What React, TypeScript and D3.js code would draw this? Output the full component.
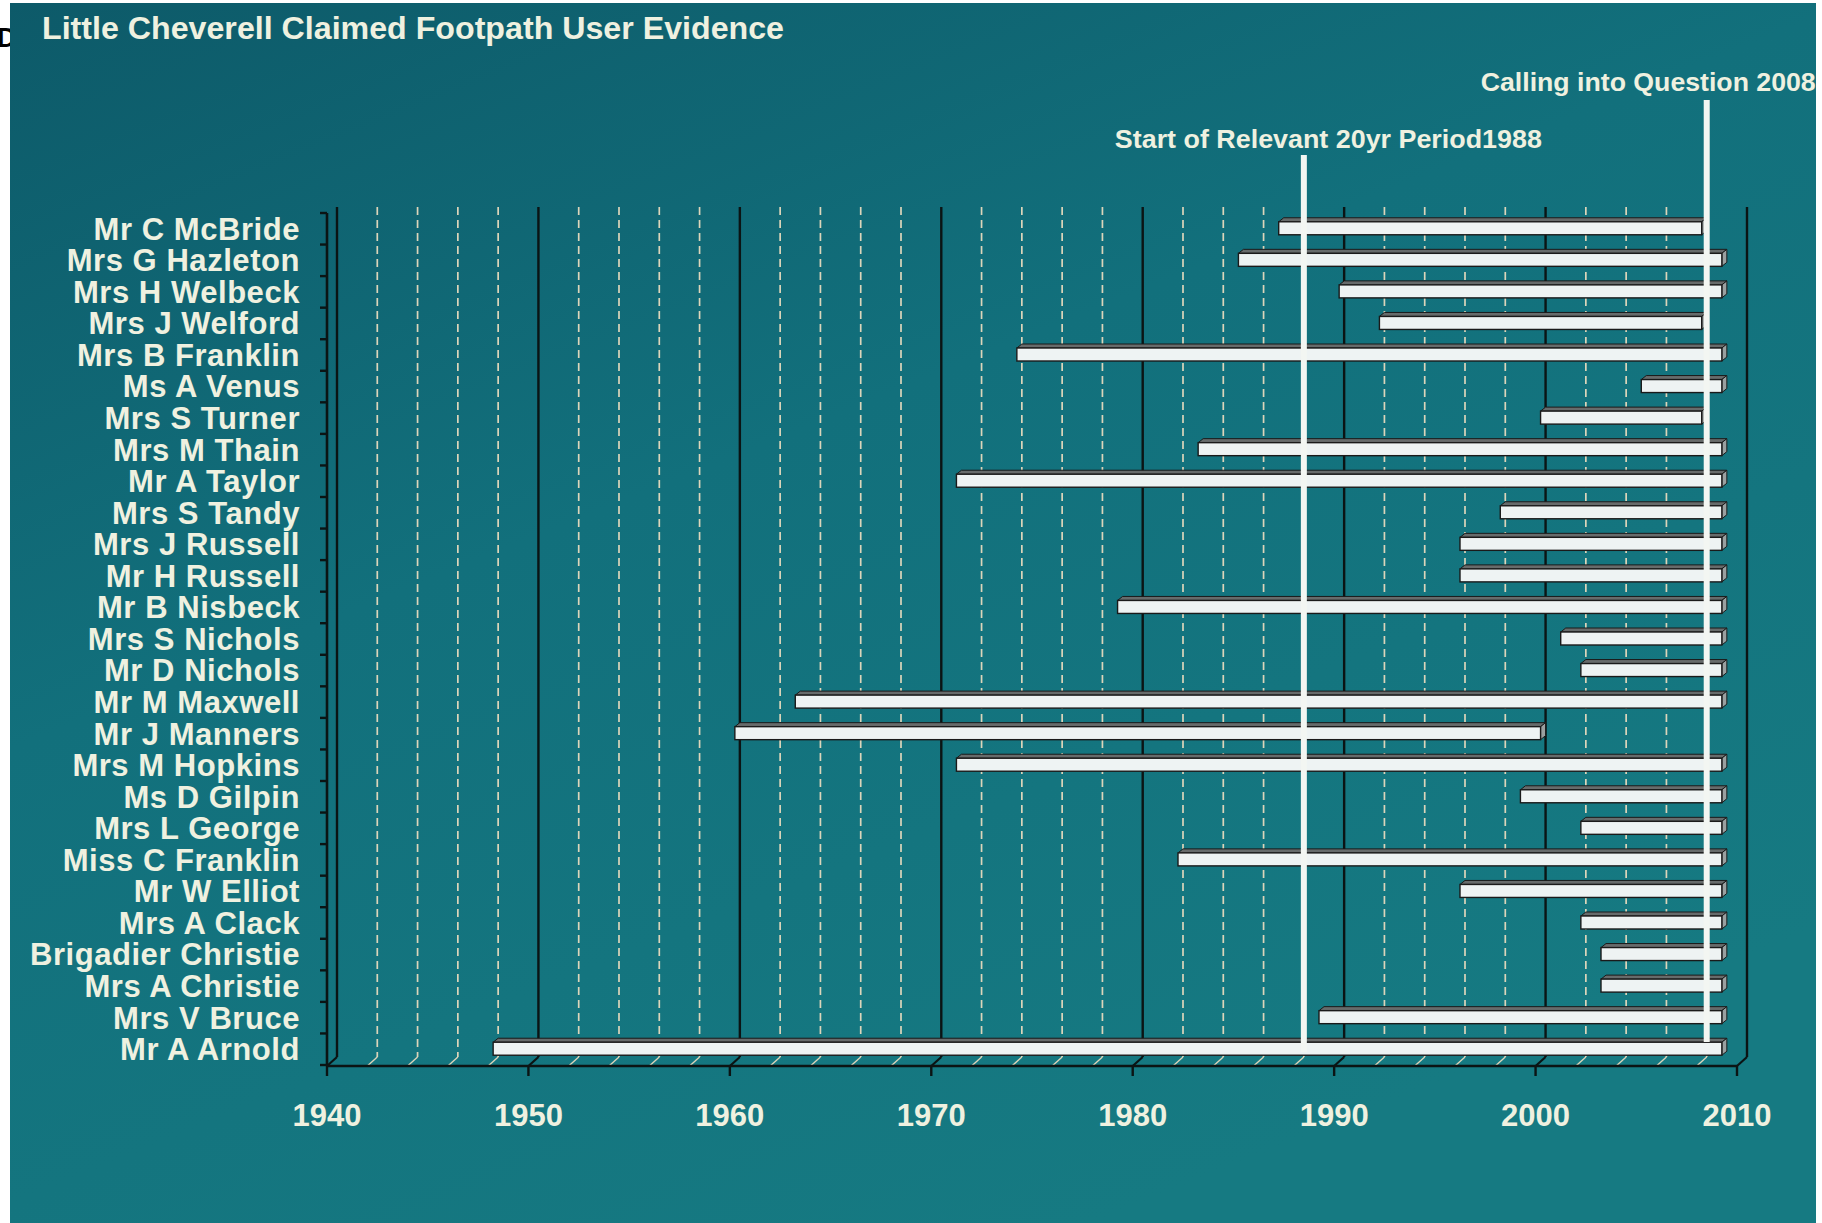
import React from 'react';
import * as d3 from 'd3';

const W = 1822;
const H = 1223;

const title = 'Little Cheverell Claimed Footpath User Evidence';

const names = [
  'Mr C McBride', 'Mrs G Hazleton', 'Mrs H Welbeck', 'Mrs J Welford', 'Mrs B Franklin',
  'Ms A Venus', 'Mrs S Turner', 'Mrs M Thain', 'Mr A Taylor', 'Mrs S Tandy',
  'Mrs J Russell', 'Mr H Russell', 'Mr B Nisbeck', 'Mrs S Nichols', 'Mr D Nichols',
  'Mr M Maxwell', 'Mr J Manners', 'Mrs M Hopkins', 'Ms D Gilpin', 'Mrs L George',
  'Miss C Franklin', 'Mr W Elliot', 'Mrs A Clack', 'Brigadier Christie', 'Mrs A Christie',
  'Mrs V Bruce', 'Mr A Arnold',
];
const startYears = [
  1987, 1985, 1990, 1992, 1974,
  2005, 2000, 1983, 1971, 1998,
  1996, 1996, 1979, 2001, 2002,
  1963, 1960, 1971, 1999, 2002,
  1982, 1996, 2002, 2003, 2003,
  1989, 1948,
];
const endYears = [
  2008, 2009, 2009, 2008, 2009,
  2009, 2008, 2009, 2009, 2009,
  2009, 2009, 2009, 2009, 2009,
  2009, 2000, 2009, 2009, 2009,
  2009, 2009, 2009, 2009, 2009,
  2009, 2009,
];

const decadeTicks = [1940, 1950, 1960, 1970, 1980, 1990, 2000, 2010];
const minorTicks = [
  1942, 1944, 1946, 1948, 1952, 1954, 1956, 1958, 1962, 1964, 1966, 1968,
  1972, 1974, 1976, 1978, 1982, 1984, 1986, 1988, 1992, 1994, 1996, 1998,
  2002, 2004, 2006, 2008,
];
const refYears = [1988, 2008];
const refLabels = ['Start of Relevant 20yr Period1988', 'Calling into Question 2008'];

const FONT = "'Liberation Sans', Arial, sans-serif";
const TXT = '#eff1e0';

export default function App() {
  // back-plane x scale
  const x = d3.scaleLinear().domain([1940, 2010]).range([337, 1747]);
  const DX = 10; // depth offset in x (front = back - DX)
  const DY = 9; // depth offset in y (front = back + DY)
  const gridTop = 207;
  const floorBack = 1057;
  const floorFront = floorBack + DY;
  const y = d3.scaleBand<string>().domain(names).range([213, 1065]);
  const bw = y.bandwidth();

  const refTop = [155, 100];
  const refBottom = [1052, 1042];
  const refTextX = [x(1988) - 189, x(2008) - 226];
  const refTextY = [148, 91];
  const refTextLen = [427, 335];

  const bars = names.map((n, i) => {
    const c = (y(n) as number) + bw / 2;
    const x0 = x(startYears[i]) - 5;
    const x1 = x(endYears[i]) - 5;
    return { n, c, x0, x1 };
  });

  const yTicks = d3.range(names.length + 1).map((i) => 213 + i * bw);

  return (
    <div style={{ position: 'absolute', left: 0, top: 0 }}>
      <svg width={W} height={H} viewBox={`0 0 ${W} ${H}`} style={{ display: 'block' }}>
        <defs>
          <linearGradient id="bg" x1="0" y1="0" x2="0.6" y2="1">
            <stop offset="0" stopColor="#0d5a69" />
            <stop offset="0.45" stopColor="#12707c" />
            <stop offset="1" stopColor="#167a82" />
          </linearGradient>
        </defs>
        <rect x={0} y={0} width={W} height={H} fill="#ffffff" />
        <text x={-3} y={47} fontFamily={FONT} fontWeight="bold" fontSize={27} fill="#000">D</text>
        <rect x={10} y={3} width={1806} height={H - 3} fill="url(#bg)" />

        {/* title */}
        <text x={42} y={39} fontFamily={FONT} fontWeight="bold" fontSize={31} fill={TXT}
          textLength={742} lengthAdjust="spacingAndGlyphs">{title}</text>

        {/* minor dashed gridlines */}
        {minorTicks.map((t) => (
          <g key={'m' + t}>
            <line x1={x(t)} x2={x(t)} y1={gridTop} y2={floorBack} stroke="#dcd5ba" strokeWidth={1.7} strokeDasharray="8 5" />
            <line x1={x(t)} x2={x(t) - DX} y1={floorBack} y2={floorFront} stroke="#dcd5ba" strokeWidth={1.4} />
          </g>
        ))}
        {/* decade solid gridlines */}
        {decadeTicks.map((t) => (
          <g key={'d' + t}>
            <line x1={x(t)} x2={x(t)} y1={gridTop} y2={floorBack} stroke="#0b1414" strokeWidth={2.4} />
            <line x1={x(t)} x2={x(t) - DX} y1={floorBack} y2={floorFront} stroke="#0b1414" strokeWidth={2.2} />
            <line x1={x(t) - DX} x2={x(t) - DX} y1={floorFront} y2={floorFront + 10} stroke="#0b1414" strokeWidth={2.4} />
          </g>
        ))}
        {/* front axis */}
        <line x1={x(1940) - DX} x2={x(2010) - DX} y1={floorFront} y2={floorFront} stroke="#0b1414" strokeWidth={2.6} />
        <line x1={x(1940) - DX} x2={x(1940) - DX} y1={213} y2={floorFront} stroke="#0b1414" strokeWidth={2.6} />
        {yTicks.map((t, i) => (
          <line key={'yt' + i} x1={x(1940) - DX - 7} x2={x(1940) - DX} y1={t} y2={t} stroke="#0b1414" strokeWidth={2.4} />
        ))}

        {/* bars */}
        {bars.map((b) => {
          const t = b.c - 7;
          const bt = b.c + 6;
          return (
            <g key={b.n}>
              <polygon
                points={`${b.x0},${t} ${b.x0 + 5},${t - 4} ${b.x1 + 5},${t - 4} ${b.x1},${t}`}
                fill="#676b6b" stroke="#1a1a1a" strokeWidth={1} />
              <polygon
                points={`${b.x1},${t} ${b.x1 + 5},${t - 4} ${b.x1 + 5},${bt - 4} ${b.x1},${bt}`}
                fill="#9aa0a0" stroke="#1a1a1a" strokeWidth={1} />
              <rect x={b.x0} y={t} width={b.x1 - b.x0} height={bt - t} fill="#eef3f3" stroke="#1a1a1a" strokeWidth={1.4} />
            </g>
          );
        })}

        {/* reference lines */}
        {refYears.map((r, i) => (
          <g key={'r' + r}>
            <rect x={x(r) - 3} y={refTop[i]} width={6} height={refBottom[i] - refTop[i]} fill="#f3f6f2" />
            <text x={refTextX[i]} y={refTextY[i]} fontFamily={FONT} fontWeight="bold" fontSize={26} fill={TXT}
              textLength={refTextLen[i]} lengthAdjust="spacingAndGlyphs">{refLabels[i]}</text>
          </g>
        ))}

        {/* y labels */}
        {bars.map((b) => (
          <text key={'l' + b.n} x={300} y={b.c} dy="0.35em" textAnchor="end" letterSpacing={0.55}
            fontFamily={FONT} fontWeight="bold" fontSize={31} fill={TXT}>{b.n}</text>
        ))}

        {/* x labels */}
        {decadeTicks.map((t) => (
          <text key={'xl' + t} x={x(t) - DX} y={1115} dy="0.35em" textAnchor="middle" fontFamily={FONT}
            fontWeight="bold" fontSize={31} fill={TXT}>{t}</text>
        ))}
      </svg>
    </div>
  );
}
